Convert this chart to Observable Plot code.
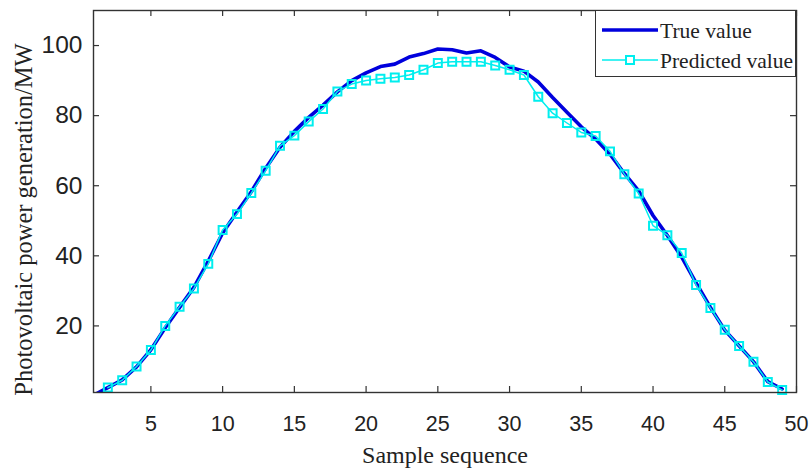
<!DOCTYPE html>
<html><head><meta charset="utf-8">
<script src="https://cdn.jsdelivr.net/npm/d3@7"></script>
<script src="https://cdn.jsdelivr.net/npm/@observablehq/plot@0.6"></script>
<style>
body{margin:0;background:#fff;}
#wrap{position:relative;width:809px;height:470px;}
#legend{position:absolute;left:595px;top:10px;width:201px;height:67px;border:1.3px solid #333;box-sizing:border-box;background:#fff;}
#legend svg{display:block;}
</style></head><body><div id="wrap"></div>
<script>
const trueSamples = [1,2,3,4,5,6,7,8,9,10,11,12,13,14,15,16,17,18,19,20,21,22,23,24,25,26,27,28,29,30,31,32,33,34,35,36,37,38,39,40,41,42,43,44,45,46,47,48,49];
const trueValue = [0.2,2.4,4.6,8.3,13.2,19.5,25.3,31.0,38.5,46.5,52.5,58.3,65.0,71.0,75.5,79.5,83.0,86.8,90.0,92.2,94.0,94.7,96.7,97.7,99.0,98.8,97.9,98.5,96.6,93.9,92.7,89.6,85.2,81.0,76.8,73.3,69.0,63.5,58.5,51.5,45.8,39.6,32.3,25.3,18.8,14.3,9.8,4.1,2.0];
const predSamples = [2,3,4,5,6,7,8,9,10,11,12,13,14,15,16,17,18,19,20,21,22,23,24,25,26,27,28,29,30,31,32,33,34,35,36,37,38,39,40,41,42,43,44,45,46,47,48,49];
const predictedValue = [2.4,4.5,8.4,13.1,20.0,25.5,30.7,37.7,47.4,51.9,57.9,64.3,71.4,74.3,78.3,81.9,86.9,89.0,90.0,90.5,90.9,91.6,93.1,95.0,95.4,95.4,95.4,94.3,93.1,91.6,85.4,80.7,77.9,75.2,74.2,69.8,63.3,57.8,48.6,45.9,40.8,31.7,25.1,18.9,14.3,9.8,4.0,1.7];
const xTicks = [5,10,15,20,25,30,35,40,45,50];
const yTicks = [20,40,60,80,100];
const seriesNames = ["True value","Predicted value"];
const xLabel = "Sample sequence";
const yLabel = "Photovoltaic power generation/MW";

const trueData = trueSamples.map((x,i)=>({x, y:trueValue[i]}));
const predData = predSamples.map((x,i)=>({x, y:predictedValue[i]}));

const W=809,H=470,mL=93,mR=13,mT=10,mB=78;
const innerW=W-mL-mR, innerH=H-mT-mB, tl=6;
const blue="#0000dd", cyan="#00eeee", ink="#333";

const chart = Plot.plot({
  width:W,height:H,marginLeft:mL,marginRight:mR,marginTop:mT,marginBottom:mB,
  style:{fontFamily:"Liberation Sans, Arial, sans-serif",fontSize:"21px",color:"#222",background:"white",overflow:"visible"},
  x:{domain:[1,50]},
  y:{domain:[1,110]},
  marks:[
    Plot.line(trueData,{x:"x",y:"y",stroke:blue,strokeWidth:3.6,clip:true}),
    Plot.line(predData,{x:"x",y:"y",stroke:cyan,strokeWidth:1.5}),
    Plot.dot(predData,{x:"x",y:"y",symbol:"square",r:4.5,stroke:cyan,strokeWidth:2,fill:"none"}),
    Plot.tickX(xTicks,{x:d=>d,insetTop:innerH-tl,stroke:ink,strokeWidth:1.2}),
    Plot.tickX(xTicks,{x:d=>d,insetBottom:innerH-tl,stroke:ink,strokeWidth:1.2}),
    Plot.tickY(yTicks,{y:d=>d,insetRight:innerW-tl,stroke:ink,strokeWidth:1.2}),
    Plot.tickY(yTicks,{y:d=>d,insetLeft:innerW-tl,stroke:ink,strokeWidth:1.2}),
    Plot.axisX(xTicks,{tickSize:0,tickPadding:23,label:null,fontSize:21.5,fill:"#222"}),
    Plot.axisY(yTicks,{tickSize:0,tickPadding:11,label:null,fontSize:24.5,fill:"#222"}),
    Plot.frame({stroke:ink,strokeWidth:1.4}),
    Plot.text([xLabel],{text:d=>d,frameAnchor:"bottom",dy:63,lineAnchor:"middle",fontFamily:"Liberation Serif, Times New Roman, serif",fontSize:24,fill:"#222"}),
    Plot.text([yLabel],{text:d=>d,frameAnchor:"left",dx:-69,dy:18,rotate:-90,lineAnchor:"middle",textAnchor:"middle",fontFamily:"Liberation Serif, Times New Roman, serif",fontSize:24.5,fill:"#222"})
  ]
});
const wrap=document.getElementById("wrap");
wrap.appendChild(chart);

// legend
const leg=document.createElement("div");
leg.id="legend";
wrap.appendChild(leg);
const ls=d3.select(leg).append("svg").attr("width",199).attr("height",65);
const rows=[{name:seriesNames[0],color:blue,w:3.6,marker:false},{name:seriesNames[1],color:cyan,w:1.5,marker:true}];
rows.forEach((r,i)=>{
  const cy=19+i*30;
  ls.append("line").attr("x1",6).attr("x2",62).attr("y1",cy).attr("y2",cy).attr("stroke",r.color).attr("stroke-width",r.w);
  if(r.marker) ls.append("rect").attr("x",34-4).attr("y",cy-4).attr("width",8).attr("height",8).attr("fill","white").attr("stroke",r.color).attr("stroke-width",2);
  ls.append("text").attr("x",64).attr("y",cy).attr("dy","0.35em").attr("font-family","Liberation Serif, Times New Roman, serif").attr("font-size",21.5).attr("fill","#222").text(r.name);
});
</script>
</body></html>
